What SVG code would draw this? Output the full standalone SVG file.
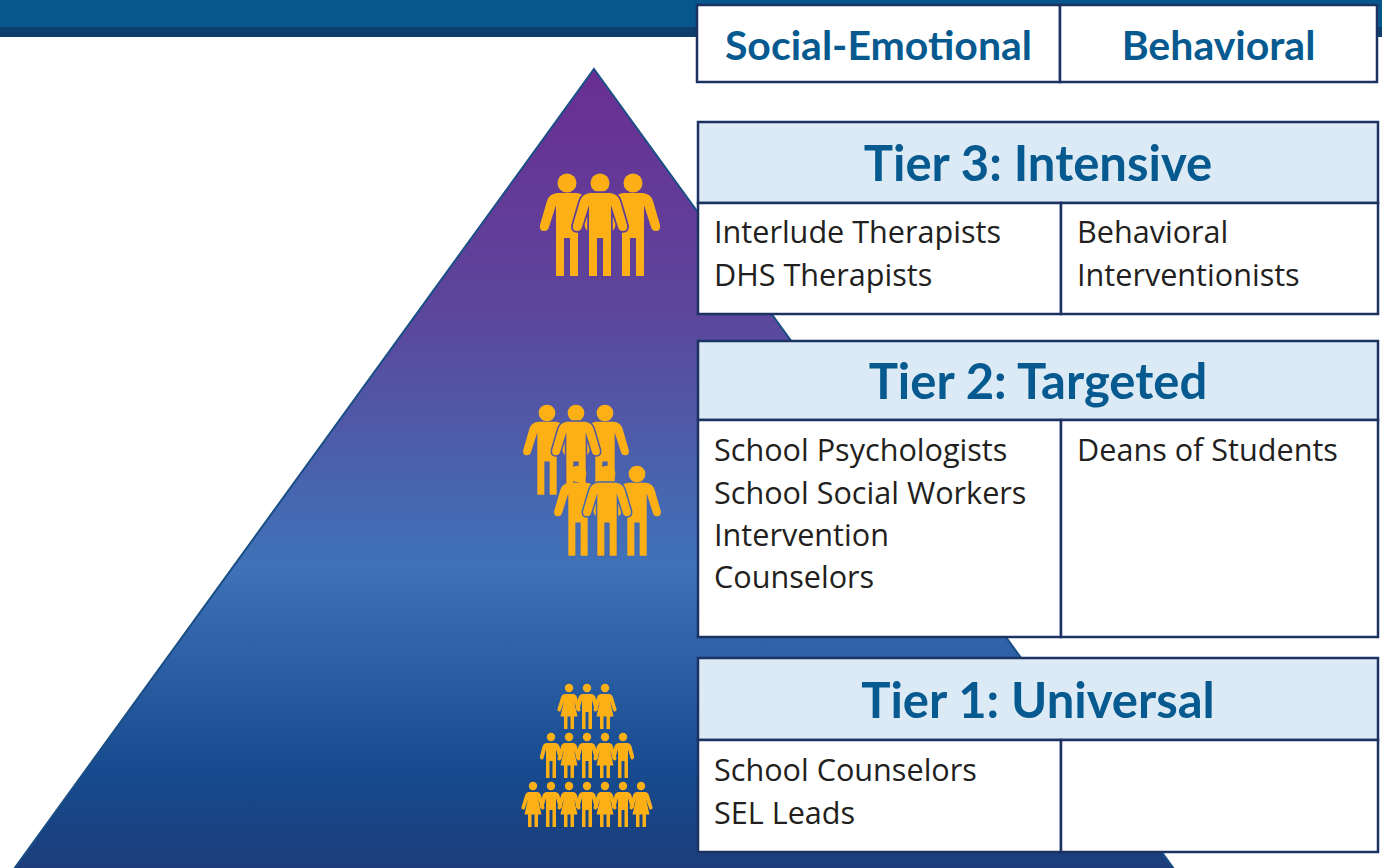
<svg xmlns="http://www.w3.org/2000/svg" xmlns:xlink="http://www.w3.org/1999/xlink" width="1382" height="868" viewBox="0 0 1382 868">
<style>
.cell{fill:#fff;stroke:#1b3263;stroke-width:2.5}
.head{fill:#dbeaf5;stroke:#1b3263;stroke-width:2.5}
.h1{font:700 41px "Lato","Open Sans",sans-serif;fill:#075a8f;text-anchor:middle}
.h2{font:700 49px "Lato","Open Sans",sans-serif;fill:#075a8f;text-anchor:middle}
.b{font:400 30.6px "Open Sans",sans-serif;fill:#231f20}
.p{fill:#fdb016}
.halo{paint-order:stroke;stroke-width:3.5;stroke-linejoin:round}
</style>
<defs>
<linearGradient id="g" x1="0" y1="0" x2="0" y2="1">
<stop offset="0" stop-color="#6a2e92"/>
<stop offset=".3" stop-color="#5c469c"/>
<stop offset=".61" stop-color="#3f72b8"/>
<stop offset=".87" stop-color="#164a8e"/>
<stop offset="1" stop-color="#1d3c78"/>
</linearGradient>
<g id="man"><circle r="9.500" stroke="none"/><path d="M-10 10H10Q18 11 20 18L27 42Q28 48 23 48Q19 48 18 44L11 22V93H3V55H-3V93H-11V22L-18 44Q-19 48-23 48Q-28 48-27 42L-20 18Q-18 11-10 10Z"/></g>
<g id="sm"><circle r="4.200"/><path d="M-4 6H4Q7.500 6 8.500 9.500L11 19Q11.500 22 9.500 22.500Q8 23 7.500 21L5 12V41H1.500V24H-1.500V41H-5V12L-7.500 21Q-8 23-9.500 22.500Q-11.500 22-11 19L-8.500 9.500Q-7.500 6-4 6Z"/></g>
<g id="wm"><circle r="4.200"/><path d="M-4 6H4Q7 6 8 9.500L11.500 21Q12 23 10 23.500Q8.500 24 8 22L5 13L8.500 28.500H5V41H1.500V28.500H-1.500V41H-5V28.500H-8.500L-5 13L-8 22Q-8.500 24-10 23.500Q-12 23-11.500 21L-8 9.500Q-7 6-4 6Z"/></g>
</defs>
<g id="banner"><rect width="1382" height="27" fill="#07578c"/><rect y="27" width="1382" height="10" fill="#0c3f6b"/></g>
<g id="pyramid"><path d="M594 69L1182 880H6Z" fill="url(#g)" stroke="#1a4f85" stroke-width="2"/></g>
<g id="people-tier3" class="p">
<use xlink:href="#man" transform="translate(567 183)"/>
<use xlink:href="#man" transform="translate(633 183)"/>
<use xlink:href="#man" class="halo" stroke="#5f3f98" transform="translate(600 183)"/>
</g>
<g id="people-tier2" class="p">
<use xlink:href="#man" transform="translate(547 413) scale(.88)"/>
<use xlink:href="#man" transform="translate(605 413) scale(.88)"/>
<use xlink:href="#man" class="halo" stroke="#5058a6" transform="translate(576 413) scale(.88)"/>
<use xlink:href="#man" transform="translate(578 474) scale(.88)"/>
<use xlink:href="#man" transform="translate(637 474) scale(.88)"/>
<use xlink:href="#man" class="halo" stroke="#4468b0" transform="translate(607 474) scale(.88)"/>
</g>
<g id="people-tier1" class="p">
<use xlink:href="#wm" transform="translate(569 688)"/><use xlink:href="#sm" transform="translate(587 688)"/><use xlink:href="#wm" transform="translate(605 688)"/>
<use xlink:href="#sm" transform="translate(551 737)"/><use xlink:href="#wm" transform="translate(569 737)"/><use xlink:href="#sm" transform="translate(587 737)"/><use xlink:href="#wm" transform="translate(605 737)"/><use xlink:href="#sm" transform="translate(623 737)"/>
<use xlink:href="#wm" transform="translate(533 786)"/><use xlink:href="#sm" transform="translate(551 786)"/><use xlink:href="#wm" transform="translate(569 786)"/><use xlink:href="#sm" transform="translate(587 786)"/><use xlink:href="#wm" transform="translate(605 786)"/><use xlink:href="#sm" transform="translate(623 786)"/><use xlink:href="#wm" transform="translate(641 786)"/>
</g>
<g id="columns-header">
<rect class="cell" x="697" y="5" width="363" height="77"/><rect class="cell" x="1060" y="5" width="317" height="77"/>
<text class="h1" x="878.500" y="60">Social-Emotional</text>
<text class="h1" x="1218.500" y="60">Behavioral</text>
</g>
<g id="tier3">
<rect class="head" x="698" y="122" width="680" height="81"/>
<rect class="cell" x="698" y="203" width="363" height="111"/><rect class="cell" x="1061" y="203" width="317" height="111"/>
<text class="h2" x="1038" y="181">Tier 3: Intensive</text>
<text class="b" x="714" y="243">Interlude Therapists</text><text class="b" x="714" y="286">DHS Therapists</text>
<text class="b" x="1077" y="243">Behavioral</text><text class="b" x="1077" y="286">Interventionists</text>
</g>
<g id="tier2">
<rect class="head" x="698" y="341" width="680" height="79"/>
<rect class="cell" x="698" y="420" width="363" height="217"/><rect class="cell" x="1061" y="420" width="317" height="217"/>
<text class="h2" x="1038" y="399">Tier 2: Targeted</text>
<text class="b" x="714" y="461">School Psychologists</text><text class="b" x="714" y="504">School Social Workers</text><text class="b" x="714" y="546">Intervention</text><text class="b" x="714" y="588">Counselors</text>
<text class="b" x="1077" y="461">Deans of Students</text>
</g>
<g id="tier1">
<rect class="head" x="698" y="658" width="680" height="82"/>
<rect class="cell" x="698" y="740" width="363" height="112"/><rect class="cell" x="1061" y="740" width="317" height="112"/>
<text class="h2" x="1038" y="718">Tier 1: Universal</text>
<text class="b" x="714" y="781">School Counselors</text><text class="b" x="714" y="824">SEL Leads</text>
</g>
</svg>
